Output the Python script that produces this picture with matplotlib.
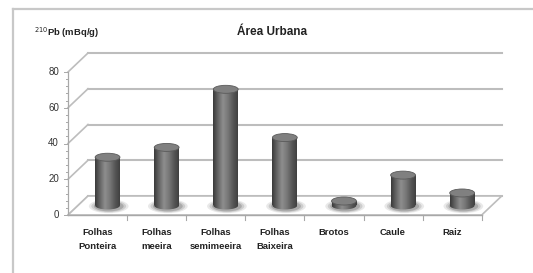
import matplotlib
matplotlib.use("Agg")
import matplotlib.pyplot as plt
import numpy as np
from matplotlib.patches import Rectangle, Ellipse, Polygon
from matplotlib.colors import LinearSegmentedColormap
from matplotlib.lines import Line2D

plt.rcParams['font.family'] = ['Liberation Sans Narrow', 'Liberation Sans', 'DejaVu Sans']

# data
categorias = ['Folhas\nPonteira', 'Folhas\nmeeira', 'Folhas\nsemimeeira', 'Folhas\nBaixeira',
              'Brotos', 'Caule', 'Raiz']
valores = [27, 32.5, 65, 38, 2.5, 17, 7]
yticks = [0, 20, 40, 60, 80]
titulo = 'Área Urbana'
ylabel = r'$^{210}$Pb (mBq/g)'

W, H = 533, 273
fig = plt.figure(figsize=(W / 100, H / 100), dpi=100)
ax = fig.add_axes([0, 0, 1, 1])
ax.axis('off')

# pixel mapping of the front plane
px0, catw = 68, 59.1
py0, ppv = 215, 1.7875
dx = 20 / catw
dy = 19 / ppv
xl, xr = -0.5, len(categorias) - 0.5
gcol = '#bdbdbd'

# frame around the chart
fig.add_artist(Line2D([13 / W, 13 / W], [1 - 9 / H, 0], color='#c8c8c8', lw=1.6, transform=fig.transFigure))
fig.add_artist(Line2D([13 / W, 1], [1 - 9 / H, 1 - 9 / H], color='#c8c8c8', lw=1.6, transform=fig.transFigure))

# back wall gridlines and side wall diagonals
for v in yticks:
    ax.plot([xl + dx, xr + dx], [v + dy, v + dy], color=gcol, lw=1.5, zorder=1)
    ax.plot([xl, xl + dx], [v, v + dy], color=gcol, lw=1.2, zorder=1)
    ax.text(xl - 9 / catw, v, str(v), ha='right', va='center', fontsize=7, color='#333333')

# floor
ax.add_patch(Polygon([[xl, 0], [xr, 0], [xr + dx, dy], [xl + dx, dy]], closed=True,
                     facecolor='white', edgecolor=gcol, lw=1.2, zorder=1))

# front y axis with ticks
ax.plot([xl, xl], [0, 80], color='#a8a8a8', lw=0.9, zorder=2)
for v in np.arange(0, 81, 4):
    ln = 4 if v % 20 == 0 else 2
    ax.plot([xl - ln / catw, xl], [v, v], color='#a8a8a8', lw=0.7, zorder=2)

# front x axis with ticks
ax.plot([xl, xr], [0, 0], color='#a8a8a8', lw=1.0, zorder=2)
for k in range(1, len(categorias) + 1):
    ax.plot([xl + k, xl + k], [0, -5 / ppv], color='#a8a8a8', lw=0.8, zorder=2)

# category labels
for i, lab in enumerate(categorias):
    ax.text(i, -(228 - py0) / ppv, lab, ha='center', va='top', fontsize=6.8,
            fontweight='bold', color='#222222', linespacing=1.7)

# cylinders
cmap = LinearSegmentedColormap.from_list('cyl', ['#3a3a3a', '#666666', '#8e8e8e', '#787878',
                                                 '#585858', '#404040'])
grad = np.linspace(0, 1, 64).reshape(1, -1)
bw = 0.42
eh = 8 / ppv
for i, v in enumerate(valores):
    cx = i + dx / 2
    base = dy / 2
    top = v + dy / 2
    # soft shadow on the floor
    for s, a in zip([1.6, 1.4, 1.2], [0.12, 0.18, 0.28]):
        ax.add_patch(Ellipse((cx + 0.02, base - 0.4), bw * s, eh * 1.3 * s / 1.2,
                             facecolor='#505050', edgecolor='none', alpha=a, zorder=3))
    body = Rectangle((cx - bw / 2, base), bw, top - base, facecolor='none', edgecolor='none')
    bottom = Ellipse((cx, base), bw, eh, facecolor='none', edgecolor='none')
    ax.add_patch(body)
    ax.add_patch(bottom)
    for clip in (body, bottom):
        im = ax.imshow(grad, cmap=cmap, extent=[cx - bw / 2, cx + bw / 2, base - eh, top],
                       aspect='auto', zorder=4, interpolation='bilinear')
        im.set_clip_path(clip)
    ax.add_patch(Ellipse((cx, top), bw, eh, facecolor='#808080', edgecolor='#5a5a5a',
                         lw=0.6, zorder=5))

ax.set_xlim((0 - px0) / catw - 0.5, (W - px0) / catw - 0.5)
ax.set_ylim((py0 - H) / ppv, py0 / ppv)

# titles
fig.text(272 / W, 1 - 32 / H, titulo, ha='center', va='center', fontsize=8.5,
         fontweight='bold', color='#222222')
fig.text(34 / W, 1 - 33 / H, ylabel, ha='left', va='center', fontsize=6.8,
         fontweight='bold', color='#222222')

fig.savefig('out.png', dpi=100)
